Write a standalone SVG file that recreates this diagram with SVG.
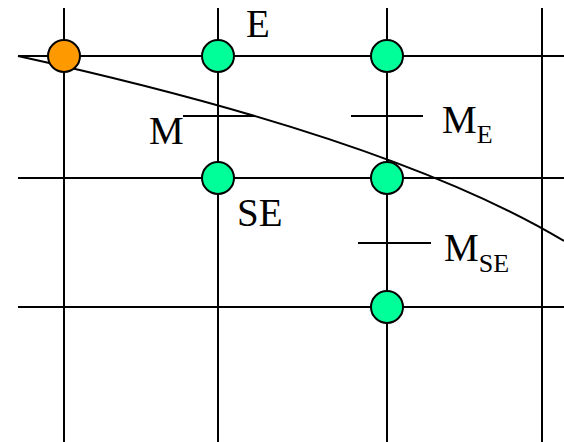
<svg xmlns="http://www.w3.org/2000/svg" width="564" height="442" viewBox="0 0 564 442">
<style>
.ln{stroke:#000;stroke-width:2;fill:none}
.nd{stroke:#000;stroke-width:2}
.g{fill:#00FF99}
.o{fill:#FF9900}
text{font-family:"Liberation Serif","Times New Roman",serif;fill:#000}
.big{font-size:39px}
.sub{font-size:26px}
</style>
<rect width="564" height="442" fill="#fff"/>
<g id="connectors">
<line class="ln" x1="64" y1="8" x2="64" y2="442"/>
<line class="ln" x1="218" y1="8" x2="218" y2="442"/>
<line class="ln" x1="387" y1="8" x2="387" y2="442"/>
<line class="ln" x1="542" y1="8" x2="542" y2="442"/>
<line class="ln" x1="18" y1="56" x2="564" y2="56"/>
<line class="ln" x1="18" y1="178" x2="564" y2="178"/>
<line class="ln" x1="18" y1="307" x2="564" y2="307"/>
<path class="ln" d="M18,56 Q393,138.5 564,241"/>
<line class="ln" x1="183" y1="116" x2="254" y2="116"/>
<line class="ln" x1="351" y1="116" x2="423" y2="116"/>
<line class="ln" x1="358" y1="243" x2="431" y2="243"/>
</g>
<g id="node-orange"><circle class="nd o" cx="64" cy="56" r="16"/></g>
<g id="node-E"><circle class="nd g" cx="218" cy="56" r="16"/></g>
<g id="node-NE"><circle class="nd g" cx="387" cy="56" r="16"/></g>
<g id="node-SE"><circle class="nd g" cx="218" cy="178" r="16"/></g>
<g id="node-C"><circle class="nd g" cx="387" cy="178" r="16"/></g>
<g id="node-S"><circle class="nd g" cx="387" cy="307" r="16"/></g>
<g id="labels">
<text class="big" x="246" y="37">E</text>
<text class="big" x="149" y="144">M</text>
<text class="big" x="237" y="226">SE</text>
<text class="big" x="442" y="133">M<tspan class="sub" dy="10">E</tspan></text>
<text class="big" x="444" y="261">M<tspan class="sub" dy="11">SE</tspan></text>
</g>
</svg>
